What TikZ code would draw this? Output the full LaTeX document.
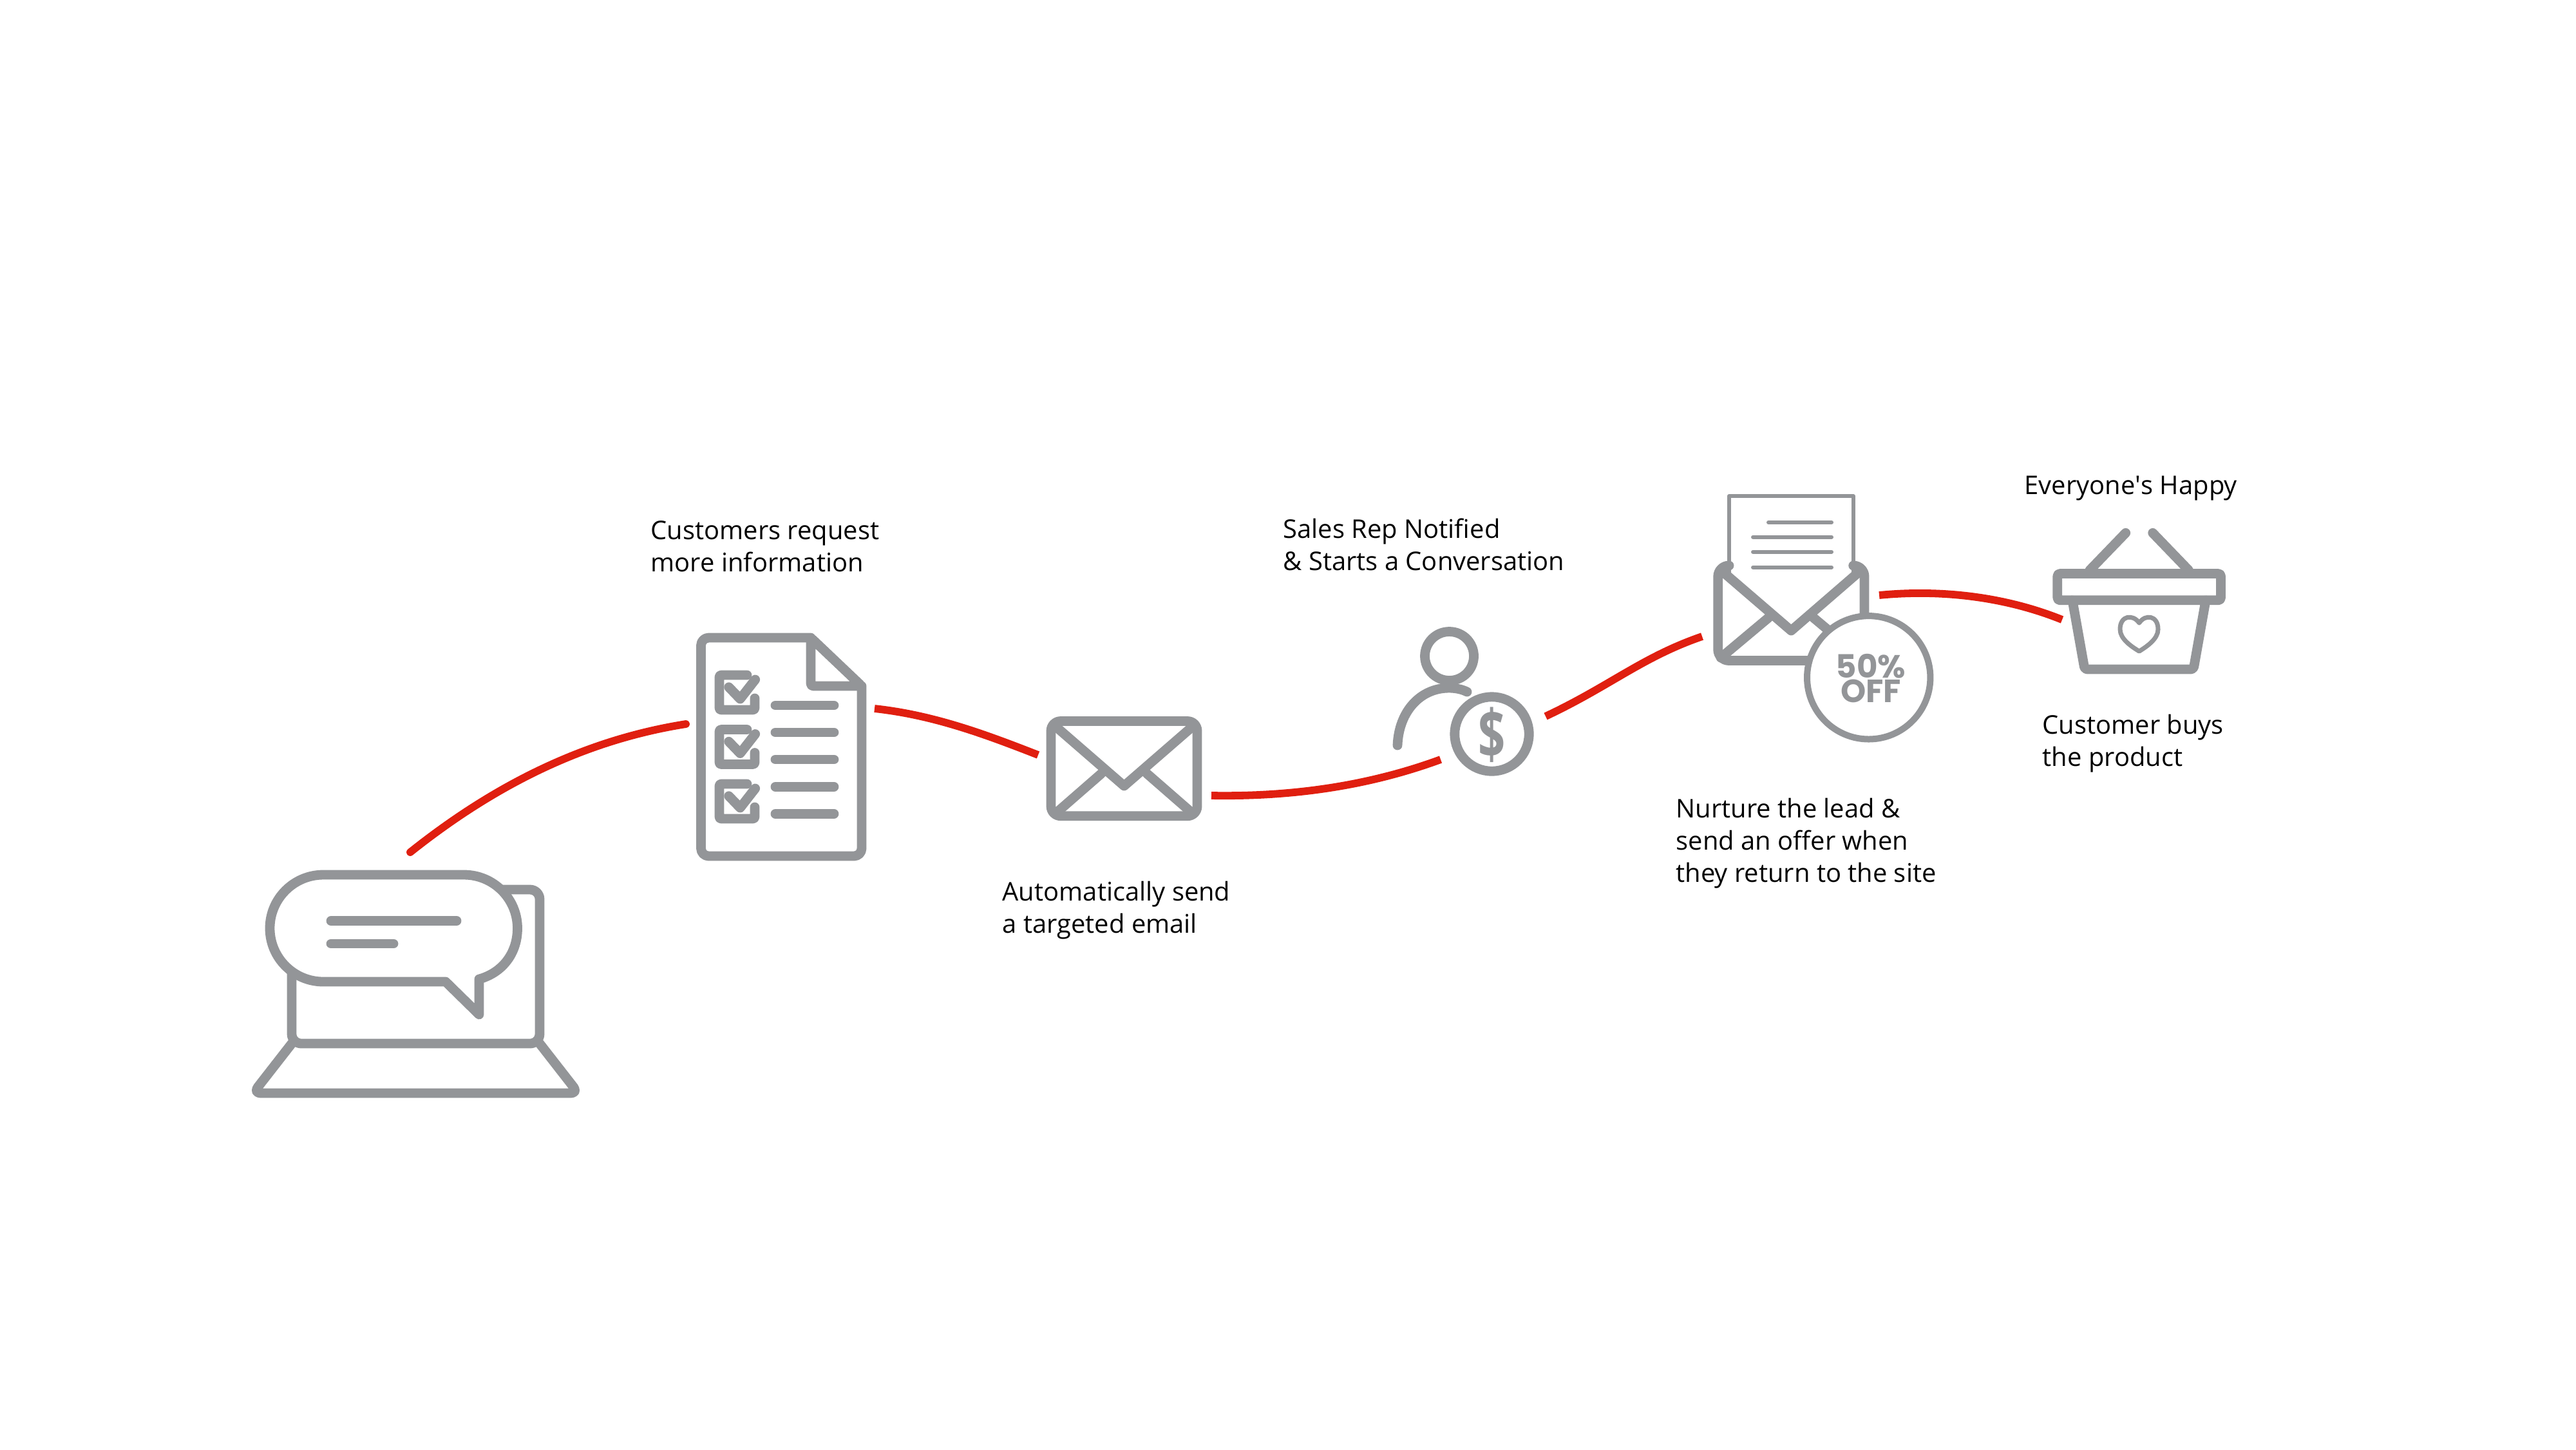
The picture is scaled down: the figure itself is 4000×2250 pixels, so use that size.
\documentclass[tikz,border=0pt]{standalone}
\usepackage{fontspec}
\usepackage{graphicx}
\setmainfont{Open Sans}
\newfontfamily\badgefont{Poppins}
\usepackage{tikz}
\usetikzlibrary{positioning}
\definecolor{icongray}{HTML}{939598}
\definecolor{flowred}{HTML}{E01F10}
\tikzset{icon/.style={draw=icongray,line width=.148cm,line cap=round,line join=round},thinicon/.style={icon,line width=.06cm},flowline/.style={draw=flowred,line width=.118cm},caption/.style={anchor=west,align=left,inner sep=0pt,font=\fontsize{11.35pt}{14.2pt}\selectfont},badgetext/.style={text=icongray,inner sep=0pt,align=center,font=\badgefont\bfseries\fontsize{14.2pt}{10.8pt}\selectfont}}
\begin{document}
\begin{tikzpicture}[x=.01cm,y=-.01cm]
\useasboundingbox (0,0) rectangle (4000,2250);
\coordinate (chatout) at (637,1323);
\coordinate (listin) at (1065,1124);
\coordinate (listout) at (1358,1100);
\coordinate (mailin) at (1612,1172);
\coordinate (mailout) at (1881,1235);
\coordinate (repin) at (2237,1179);
\coordinate (repout) at (2400,1112);
\coordinate (offerin) at (2643,988);
\coordinate (offerout) at (2918,924);
\coordinate (basketin) at (3202,962);
\draw[icon,rounded corners=.15cm] (781,1381) -- (838,1381) -- (838,1620) -- (453,1620) -- (453,1500);
\draw[icon,rounded corners=.12cm] (453,1620) -- (393,1697) -- (898,1697) -- (838,1620);
\draw[icon,fill=white] (692,1524) -- (744,1575) -- (744,1520) .. controls (780,1510) and (803.5,1480) .. (803.5,1441) [rounded corners=.83cm] -- (803.5,1358) -- (419,1358) -- (419,1524) [sharp corners] -- cycle;
\draw[icon] (514,1429.5) -- (709,1429.5) (514,1465) -- (611,1465);
\draw[icon,rounded corners=.12cm] (1259,990) -- (1088.5,990) -- (1088.5,1329) -- (1338,1329) -- (1338,1065);
\draw[icon,rounded corners=.04cm] (1259,990) -- (1338,1065) -- (1259,1065) -- cycle;
\foreach \rowy in {0,84.5,169}{
\draw[icon,rounded corners=.03cm] (1160,1048+\rowy) -- (1117,1048+\rowy) -- (1117,1102+\rowy) -- (1172,1102+\rowy) -- (1172,1084+\rowy);
\draw[icon] (1131.7,1066.7+\rowy) -- (1149.3,1085+\rowy) -- (1172.7,1055+\rowy);
}
\foreach \liney in {1095,1137,1179,1221.3,1263.3}
\draw[icon] (1204,\liney) -- (1295,\liney);
\draw[icon,rounded corners=.15cm] (1632,1119.5) rectangle (1859,1266.7);
\draw[icon] (1636,1125) -- (1745.5,1220) -- (1855,1125) (1710,1201) -- (1640,1262) (1781,1201) -- (1851,1262);
\draw[icon] (2250.5,1018.5) circle [radius=38];
\draw[icon] (2170,1157) .. controls (2172,1105) and (2205,1068) .. (2250,1068) .. controls (2260,1068) and (2270,1070) .. (2278,1074);
\draw[icon] (2316.5,1139.5) circle [radius=57.7];
\node[inner sep=0pt,text=icongray,font=\fontsize{21pt}{21pt}\selectfont\bfseries] (dollar) at (2316.5,1141) {\scalebox{1}[1.42]{\$}};
\draw[thinicon,fill=white] (2685,895) -- (2685,770) -- (2877.7,770) -- (2877.7,895);
\foreach \liney/\linex in {811/2746,833.7/2722,856.7/2722,880.7/2722}
\draw[thinicon] (\linex,\liney) -- (2844,\liney);
\draw[icon,rounded corners=.17cm] (2685,878) -- (2667.7,878) -- (2667.7,1025.5) -- (2895,1025.5) -- (2895,878) -- (2877.7,878);
\draw[icon] (2672,885) -- (2781.3,979) -- (2890,885) (2746,959) -- (2672,1021) (2816,959) -- (2890,1021);
\draw[icon,line width=.1cm,fill=white] (2901.7,1051.8) circle [radius=95.7];
\node[badgetext] (badge) at (2905,1053.5) {50\%\\OFF};
\draw[icon] (3300.7,827.3) -- (3245,885) (3342.7,827.3) -- (3398.3,885);
\draw[icon,rounded corners=.04cm] (3194.8,890.5) rectangle (3448.5,931.8);
\draw[icon,rounded corners=.04cm] (3218,932) -- (3237,1039) -- (3406,1039) -- (3425,932);
\draw[icon,line width=.07cm] (3321.7,967) .. controls (3312,953) and (3292,955) .. (3292,977) .. controls (3292,992) and (3310,1004) .. (3321.7,1011) .. controls (3333,1004) and (3351,992) .. (3351,977) .. controls (3351,955) and (3331,953) .. (3321.7,967) -- cycle;
\draw[flowline,line cap=round] (chatout) .. controls (760,1225) and (900,1150) .. (listin);
\draw[flowline] (listout) .. controls (1450,1110) and (1530,1140) .. (mailin);
\draw[flowline] (mailout) .. controls (2000,1237) and (2120,1222) .. (repin);
\draw[flowline] (repout) .. controls (2500,1065) and (2550,1020) .. (offerin);
\draw[flowline] (offerout) .. controls (3010,915) and (3110,925) .. (basketin);
\node[caption] (request) at (1010,848) {Customers request\\more information};
\node[caption] (send) at (1556,1413) {Automatically send\\a targeted email};
\node[caption] (notified) at (1992,845) {Sales Rep Notified\\\& Starts a Conversation};
\node[caption] (nurture) at (2602,1309) {Nurture the lead \&\\send an offer when\\they return to the site};
\node[caption] (happy) at (3143,758) {Everyone\textquotesingle s Happy};
\node[caption] (buys) at (3171,1154) {Customer buys\\the product};
\end{tikzpicture}
\end{document}
